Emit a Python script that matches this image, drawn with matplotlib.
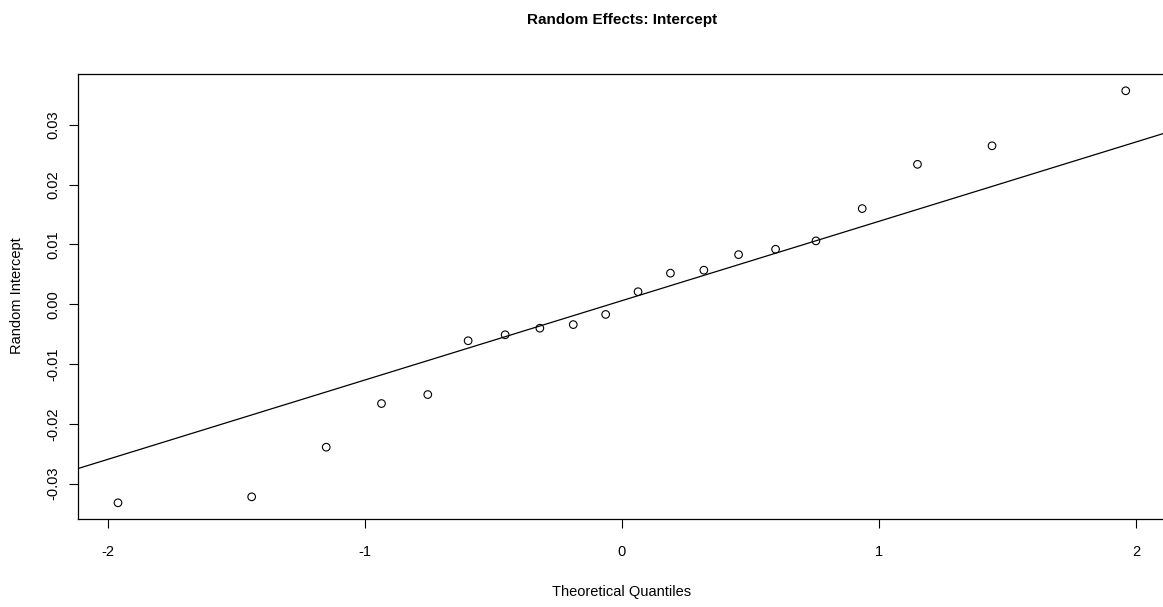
import numpy as np
import matplotlib
matplotlib.use("Agg")
import matplotlib.pyplot as plt

plt.rcParams['font.family'] = ['Liberation Sans', 'DejaVu Sans']

# Theoretical normal quantiles (n = 20) and sorted random intercepts
theoretical = [-1.960, -1.440, -1.150, -0.935, -0.755, -0.598, -0.454, -0.319, -0.189, -0.063,
               0.063, 0.189, 0.319, 0.454, 0.598, 0.755, 0.935, 1.150, 1.440, 1.960]
random_intercept = [-0.0332, -0.0322, -0.0239, -0.0166, -0.0151, -0.0061, -0.0051, -0.0040, -0.0034, -0.0017,
                    0.0021, 0.0052, 0.0057, 0.0083, 0.0092, 0.0106, 0.0160, 0.0234, 0.0265, 0.0357]
x_ticks = [-2, -1, 0, 1, 2]
x_tick_labels = ["-2", "-1", "0", "1", "2"]
y_ticks = [-0.03, -0.02, -0.01, 0.00, 0.01, 0.02, 0.03]
y_tick_labels = ["-0.03", "-0.02", "-0.01", "0.00", "0.01", "0.02", "0.03"]

title = "Random Effects: Intercept"
xlabel = "Theoretical Quantiles"
ylabel = "Random Intercept"

fig = plt.figure(figsize=(11.63, 6.07), dpi=100)
ax = fig.add_axes([0.0668, 0.1445, 1.0026 - 0.0668, 0.8776 - 0.1445])

x = np.array(theoretical)
y = np.array(random_intercept)
ax.scatter(x, y, s=30, facecolors='none', edgecolors='black', linewidths=0.8, zorder=3)

# qqline through the quartiles
q_y = np.percentile(y, [25, 75])
q_x = np.array([-0.6745, 0.6745])
slope = (q_y[1] - q_y[0]) / (q_x[1] - q_x[0])
intercept = q_y[0] - slope * q_x[0]
xl = np.array([-3, 3])
ax.plot(xl, intercept + slope * xl, color='black', linewidth=0.9)

xr = x.max() - x.min()
yr = y.max() - y.min()
ax.set_xlim(x.min() - 0.04 * xr, x.max() + 0.04 * xr)
ax.set_ylim(y.min() - 0.04 * yr, y.max() + 0.04 * yr)

ax.set_xticks(x_ticks)
ax.set_xticklabels(x_tick_labels, fontsize=10.5)
ax.set_yticks(y_ticks)
ax.set_yticklabels(y_tick_labels, fontsize=10.5, rotation=90, va='center')
ax.tick_params(direction='out', length=6.5, width=0.8, pad=12)
ax.tick_params(axis='y', pad=6)
for s in ax.spines.values():
    s.set_linewidth(0.9)

fig.text(0.5345, 1 - 20 / 607, title, ha='center', va='center', fontsize=11, fontweight='bold')
fig.text(0.5345, 1 - 592 / 607, xlabel, ha='center', va='center', fontsize=10.5)
fig.text(17 / 1163, 1 - 296 / 607, ylabel, ha='center', va='center', fontsize=10.5, rotation=90)

fig.savefig("out.png", dpi=100)
